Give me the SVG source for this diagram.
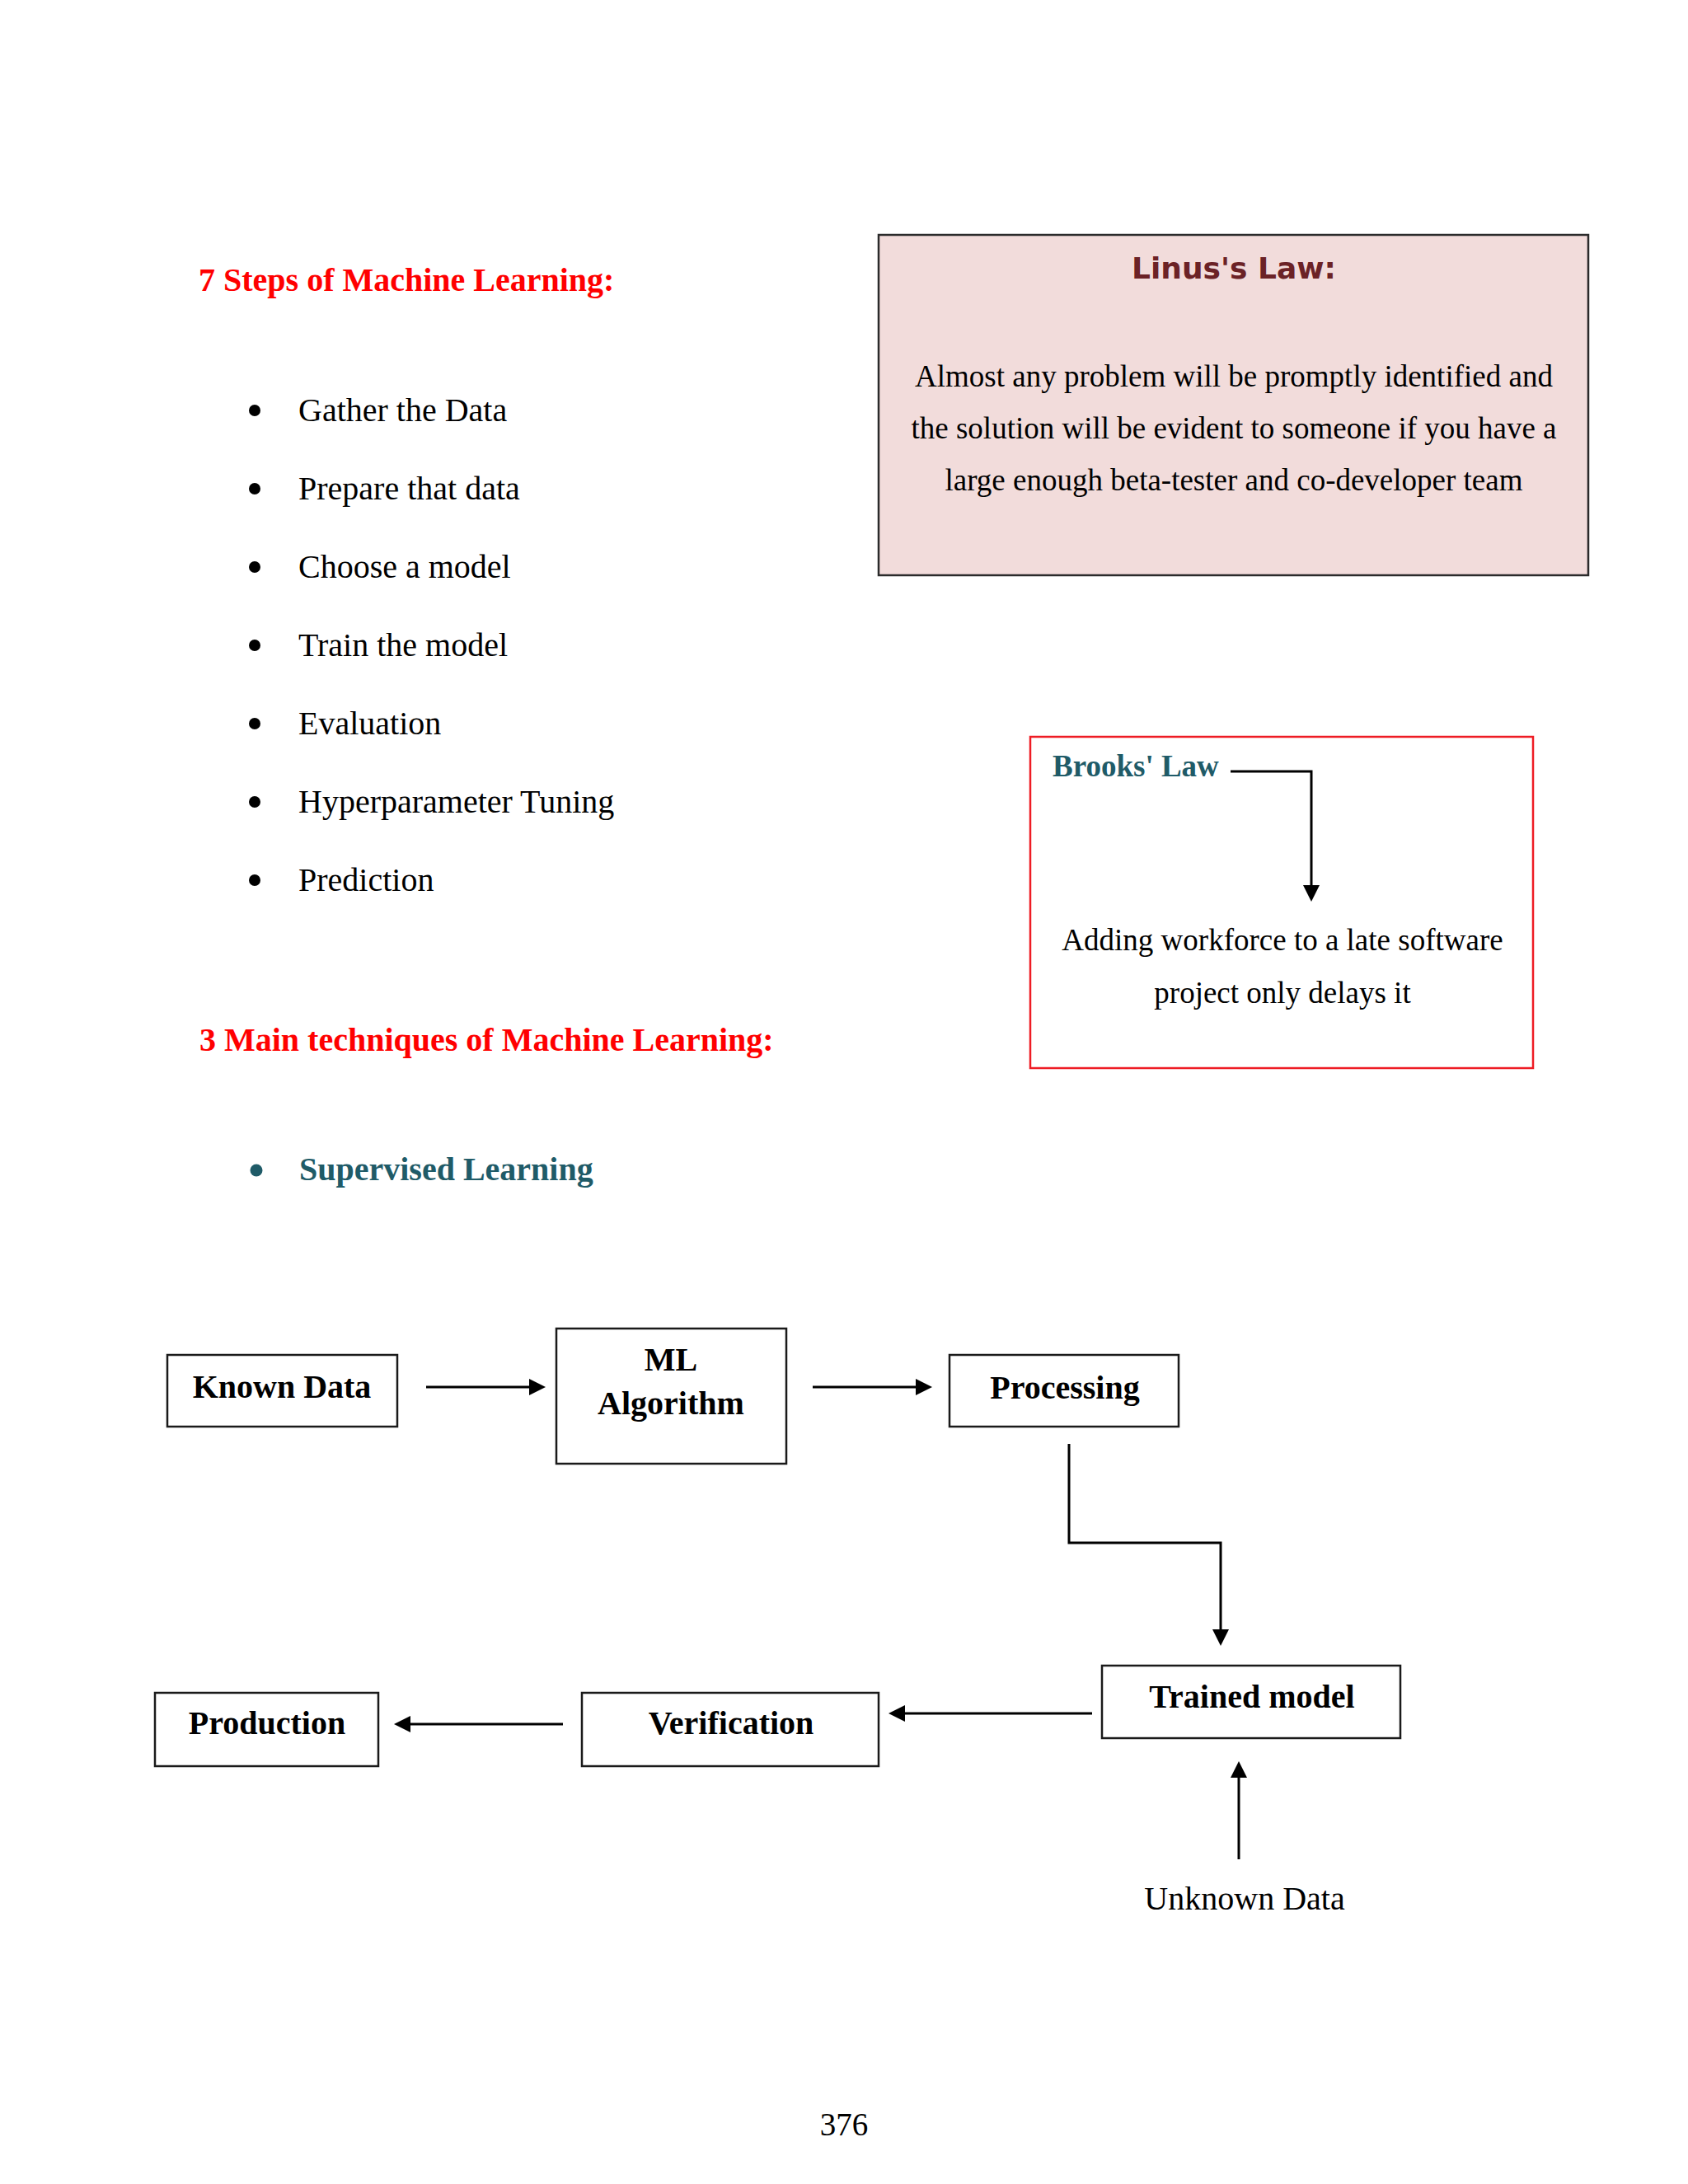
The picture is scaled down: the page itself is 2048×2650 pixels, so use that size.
<svg xmlns="http://www.w3.org/2000/svg" width="2048" height="2650" viewBox="0 0 2048 2650">
<style>
.serif{font-family:"Liberation Serif","Times New Roman",serif;}
.h{font-family:"Liberation Serif","Times New Roman",serif;font-weight:bold;font-size:40px;fill:#ff0000;}
.li{font-family:"Liberation Serif","Times New Roman",serif;font-size:40px;fill:#000;}
.body{font-family:"Liberation Serif","Times New Roman",serif;font-size:37px;fill:#000;text-anchor:middle;}
.teal{font-family:"Liberation Serif","Times New Roman",serif;font-weight:bold;fill:#1f5b68;}
.nb{fill:#fff;stroke:#1a1a1a;stroke-width:2.5;}
.nt{font-family:"Liberation Serif","Times New Roman",serif;font-weight:bold;font-size:40px;fill:#000;text-anchor:middle;}
.c{fill:none;stroke:#000;stroke-width:3;}
</style>
<defs>
<marker id="ah" markerUnits="userSpaceOnUse" markerWidth="20" markerHeight="20" refX="16" refY="10" orient="auto">
<path d="M0,0 L20,10 L0,20 z" fill="#000"/>
</marker>
</defs>
<rect width="2048" height="2650" fill="#fff"/>

<g id="steps">
<text class="h" x="241" y="353">7 Steps of Machine Learning:</text>
<g fill="#000">
<circle cx="309" cy="498" r="7"/>
<circle cx="309" cy="593" r="7"/>
<circle cx="309" cy="688" r="7"/>
<circle cx="309" cy="783" r="7"/>
<circle cx="309" cy="878" r="7"/>
<circle cx="309" cy="973" r="7"/>
<circle cx="309" cy="1068" r="7"/>
</g>
<text class="li" x="362" y="511">Gather the Data</text>
<text class="li" x="362" y="606">Prepare that data</text>
<text class="li" x="362" y="701">Choose a model</text>
<text class="li" x="362" y="796">Train the model</text>
<text class="li" x="362" y="891">Evaluation</text>
<text class="li" x="362" y="986">Hyperparameter Tuning</text>
<text class="li" x="362" y="1081">Prediction</text>
</g>

<g id="techniques">
<text class="h" x="242" y="1275">3 Main techniques of Machine Learning:</text>
<circle cx="311" cy="1420" r="7.5" fill="#1f5b68"/>
<text class="teal" x="363" y="1432" font-size="40">Supervised Learning</text>
</g>

<g id="linus">
<rect x="1066" y="285" width="861" height="413" fill="#f2dcdb" stroke="#2b2b2b" stroke-width="2.5"/>
<text x="1497" y="338" text-anchor="middle" font-family="'DejaVu Sans',Verdana,sans-serif" font-weight="bold" font-size="36" fill="#6b2226">Linus's Law:</text>
<text class="body" x="1497" y="469">Almost any problem will be promptly identified and</text>
<text class="body" x="1497" y="532">the solution will be evident to someone if you have a</text>
<text class="body" x="1497" y="595">large enough beta-tester and co-developer team</text>
</g>

<g id="brooks">
<rect x="1250" y="894" width="610" height="402" fill="#fff" stroke="#ee1c24" stroke-width="2.5"/>
<text class="teal" x="1277" y="942" font-size="37">Brooks' Law</text>
<text class="body" x="1556" y="1153">Adding workforce to a late software</text>
<text class="body" x="1556" y="1217">project only delays it</text>
</g>

<g id="known-data">
<rect class="nb" x="203" y="1644" width="279" height="87"/>
<text class="nt" x="342" y="1696">Known Data</text>
</g>
<g id="ml-algorithm">
<rect class="nb" x="675" y="1612" width="279" height="164"/>
<text class="nt" x="814" y="1663">ML</text>
<text class="nt" x="814" y="1716">Algorithm</text>
</g>
<g id="processing">
<rect class="nb" x="1152" y="1644" width="278" height="87"/>
<text class="nt" x="1292" y="1697">Processing</text>
</g>
<g id="trained-model">
<rect class="nb" x="1337" y="2021" width="362" height="88"/>
<text class="nt" x="1519" y="2072">Trained model</text>
</g>
<g id="verification">
<rect class="nb" x="706" y="2054" width="360" height="89"/>
<text class="nt" x="887" y="2104">Verification</text>
</g>
<g id="production">
<rect class="nb" x="188" y="2054" width="271" height="89"/>
<text class="nt" x="324" y="2104">Production</text>
</g>
<g id="unknown-data">
<text class="li" x="1510" y="2317" text-anchor="middle">Unknown Data</text>
</g>

<g id="connectors">
<path class="c" d="M517,1683 H658" marker-end="url(#ah)"/>
<path class="c" d="M986,1683 H1127" marker-end="url(#ah)"/>
<path class="c" d="M1297,1752 V1872 H1481 V1993" marker-end="url(#ah)"/>
<path class="c" d="M1325,2079 H1082" marker-end="url(#ah)"/>
<path class="c" d="M683,2092 H482" marker-end="url(#ah)"/>
<path class="c" d="M1503,2256 V2141" marker-end="url(#ah)"/>
<path class="c" d="M1493,936 H1591 V1090" stroke-width="2.5" marker-end="url(#ah)"/>
</g>

<text class="serif" x="1024" y="2591" text-anchor="middle" font-size="39" fill="#000">376</text>
</svg>
